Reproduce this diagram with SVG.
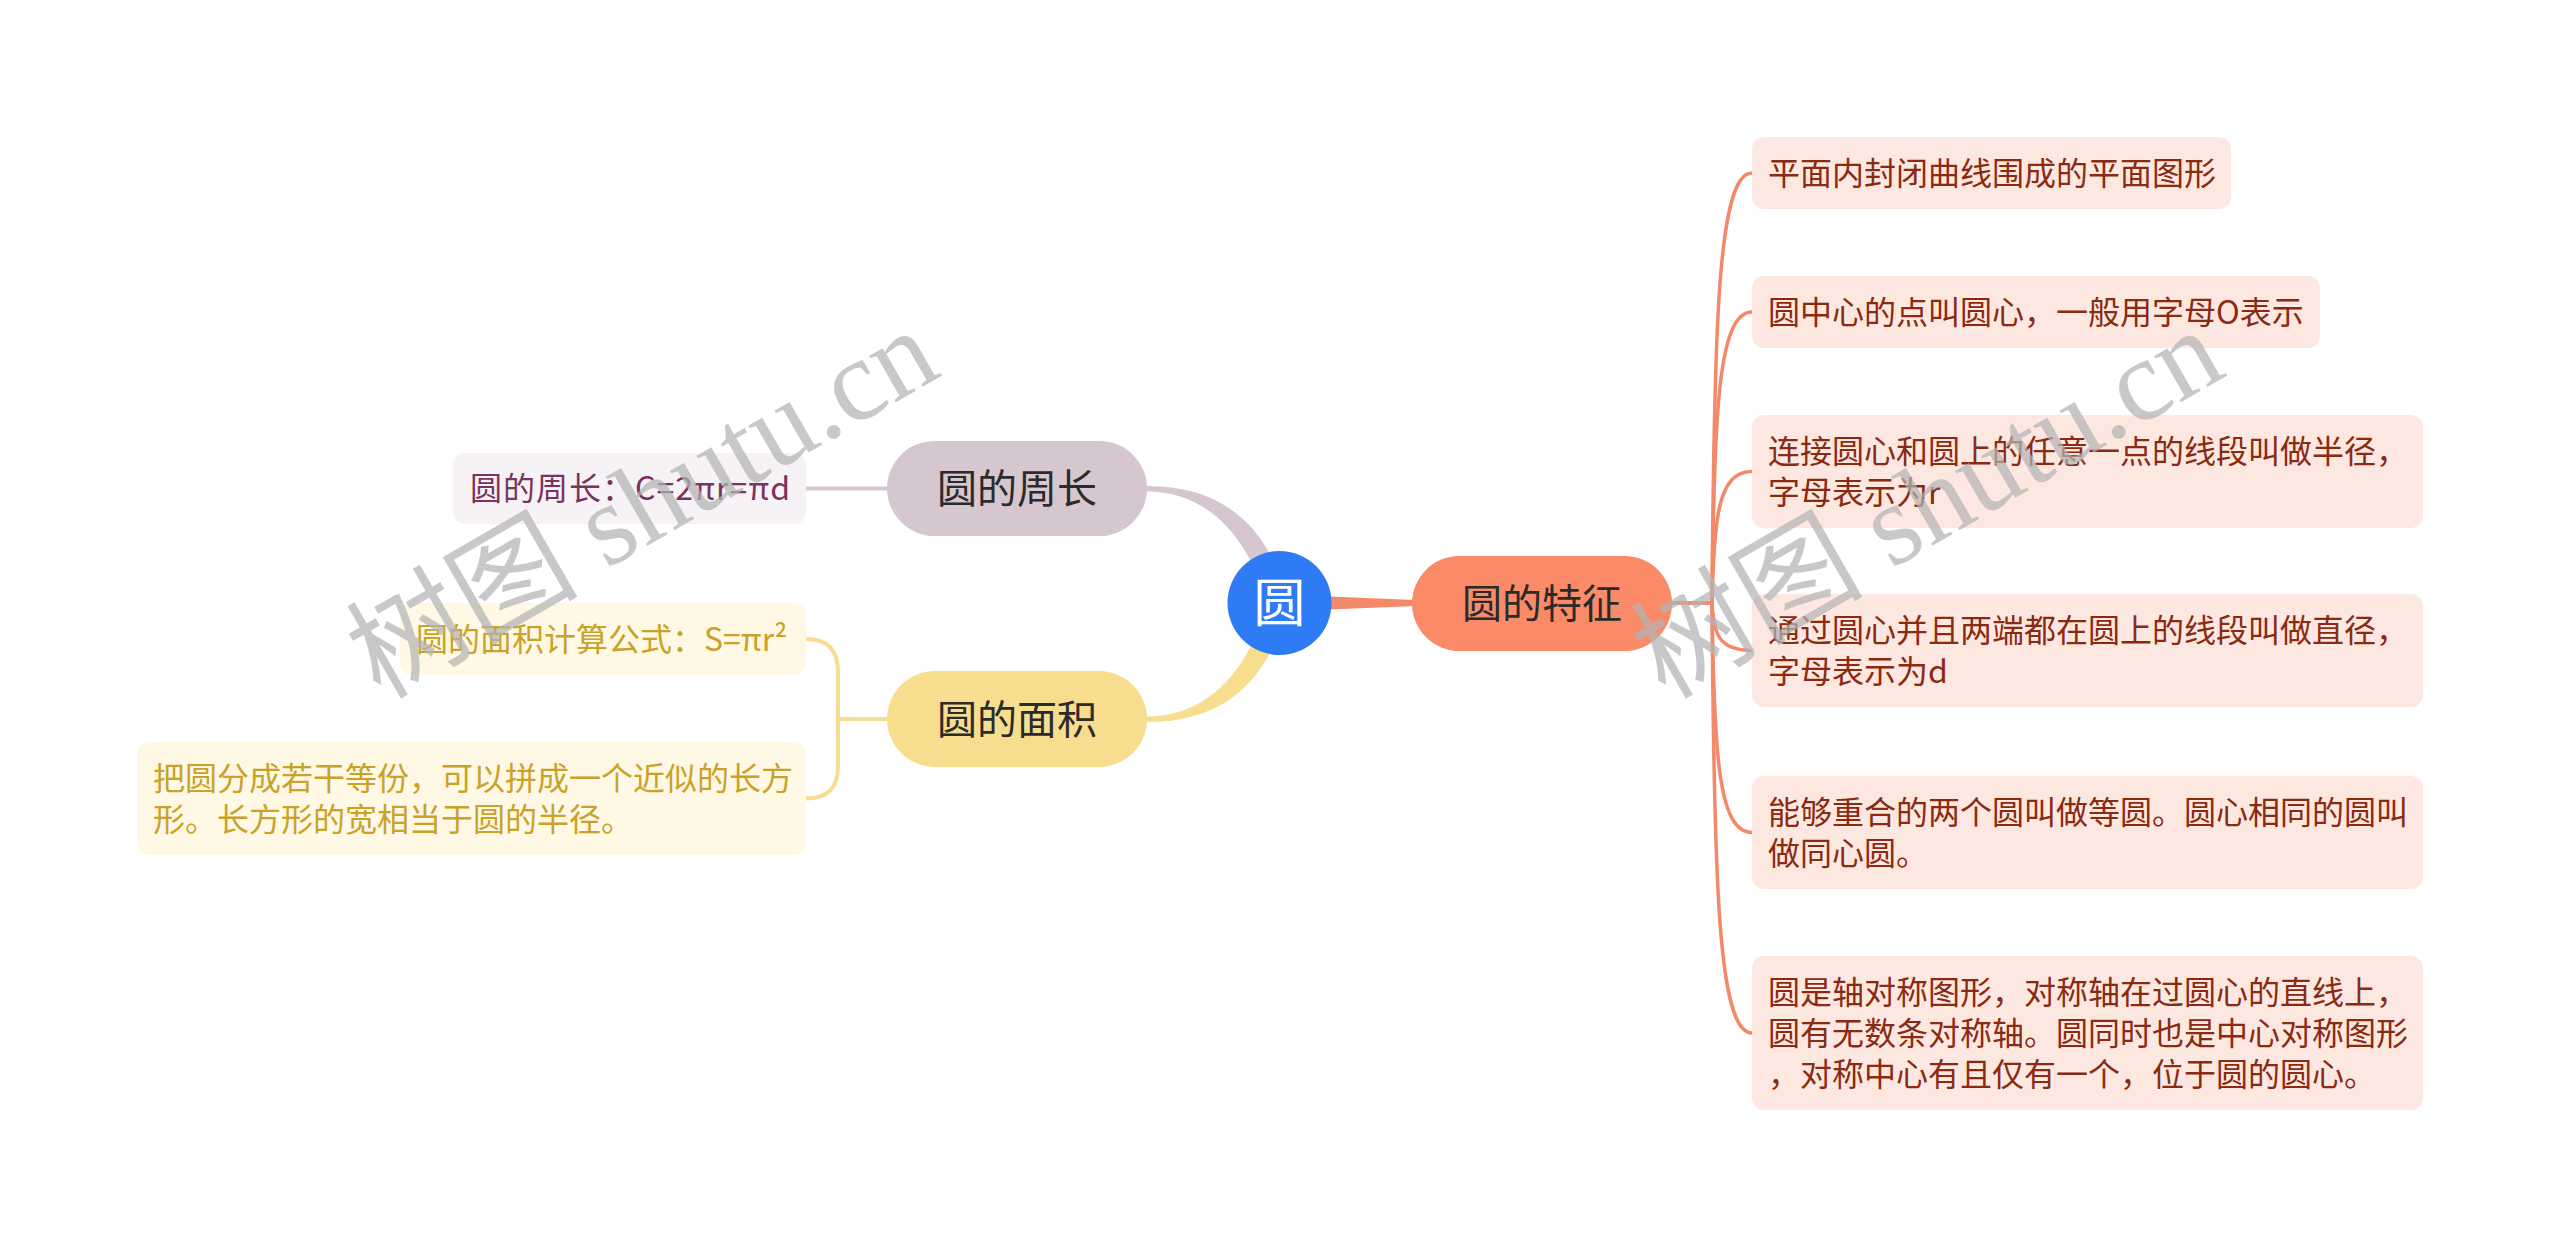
<svg xmlns="http://www.w3.org/2000/svg" width="2560" height="1248" viewBox="0 0 2560 1248">
<style>
  text { font-family: "Noto Sans CJK SC", "Noto Sans", sans-serif; }
  .lvl1 { font-size: 40px; fill: #2b2b2b; text-anchor: middle; }
  .rbox { fill: #fde7e1; }
  .rtxt { font-size: 32px; fill: #8a2a10; }
  .pbox { fill: #f7f2f5; }
  .ptxt { font-size: 32px; fill: #7a3360; }
  .ybox { fill: #fff8e5; }
  .ytxt { font-size: 32px; fill: #c9a227; }
  .oline { fill: none; stroke: #f4896a; stroke-width: 3.5; stroke-linecap: round; }
  .wm { font-family: "Liberation Serif", "Noto Sans CJK SC", serif; font-size: 116px; fill: #b4b4b4; opacity: 0.72; }
</style>
<rect width="2560" height="1248" fill="#ffffff"/>

<g id="connectors">
  <!-- root to 圆的周长 (tapered) -->
  <path d="M 1147 486 C 1225 486, 1270 528, 1288 603 L 1267 603 C 1252 548, 1215 491.5, 1147 491.5 Z" fill="#d6c6d0"/>
  <!-- root to 圆的面积 (tapered) -->
  <path d="M 1147 722 C 1225 722, 1270 680, 1288 603 L 1267 603 C 1252 660, 1215 716.5, 1147 716.5 Z" fill="#f7de8e"/>
  <!-- root to 圆的特征 (tapered) -->
  <path d="M 1279 594.5 L 1416 600 L 1416 606 L 1279 611.5 Z" fill="#f4896a"/>
  <!-- 圆的周长 to leaf -->
  <path d="M 887 488.5 L 806 488.5" fill="none" stroke="#d6c6d0" stroke-width="4"/>
  <!-- 圆的面积 to leaves -->
  <path d="M 887 719 L 838 719" fill="none" stroke="#f7de8e" stroke-width="4"/>
  <path d="M 806 639 C 828 639, 838 650, 838 672 L 838 766 C 838 788, 828 798.5, 806 798.5" fill="none" stroke="#f7de8e" stroke-width="4"/>
  <!-- 圆的特征 to leaves -->
  <path class="oline" d="M 1672 603 L 1712 603" style="stroke-width:4"/>
  <path class="oline" d="M 1712 603 C 1714 323.5, 1718 173, 1752 173"/>
  <path class="oline" d="M 1712 603 C 1714 413.9, 1718 312, 1752 312"/>
  <path class="oline" d="M 1712 603 C 1714 517.5, 1718 471.5, 1752 471.5"/>
  <path class="oline" d="M 1712 603 C 1714 633.9, 1718 650.5, 1752 650.5"/>
  <path class="oline" d="M 1712 603 C 1714 752.2, 1718 832.5, 1752 832.5"/>
  <path class="oline" d="M 1712 603 C 1714 882.5, 1718 1033, 1752 1033"/>
</g>

<g id="root">
  <circle cx="1279.5" cy="603" r="52" fill="#2f7bf5"/>
  <text x="1279.5" y="622" font-size="52" fill="#ffffff" text-anchor="middle">圆</text>
</g>

<g id="node-features">
  <rect x="1412" y="556" width="260" height="95" rx="47.5" fill="#fa8a68"/>
  <text class="lvl1" x="1542" y="617.5">圆的特征</text>
</g>

<g id="node-perimeter">
  <rect x="887" y="441" width="260" height="95" rx="47.5" fill="#d6c6d0"/>
  <text class="lvl1" x="1017" y="503">圆的周长</text>
</g>

<g id="node-area">
  <rect x="887" y="671" width="260" height="96" rx="48" fill="#f7de8e"/>
  <text class="lvl1" x="1017" y="733.5">圆的面积</text>
</g>

<g id="leaf-perimeter">
  <rect class="pbox" x="453" y="453" width="353" height="71" rx="12"/>
  <text class="ptxt" x="470" y="500" textLength="320" lengthAdjust="spacing">圆的周长：C=2πr=πd</text>
</g>

<g id="leaf-area-formula">
  <rect class="ybox" x="400" y="603" width="406" height="72" rx="12"/>
  <text class="ytxt" x="416" y="650.5">圆的面积计算公式：S=πr²</text>
</g>

<g id="leaf-area-rect">
  <rect class="ybox" x="137" y="742" width="669" height="113" rx="12"/>
  <text class="ytxt" x="153" y="790">把圆分成若干等份，可以拼成一个近似的长方</text>
  <text class="ytxt" x="153" y="831">形。长方形的宽相当于圆的半径。</text>
</g>

<g id="feat-1">
  <rect class="rbox" x="1752" y="137" width="479" height="72" rx="12"/>
  <text class="rtxt" x="1768" y="184.5">平面内封闭曲线围成的平面图形</text>
</g>

<g id="feat-2">
  <rect class="rbox" x="1752" y="276" width="568" height="72" rx="12"/>
  <text class="rtxt" x="1768" y="323.5">圆中心的点叫圆心，一般用字母O表示</text>
</g>

<g id="feat-3">
  <rect class="rbox" x="1752" y="415" width="671" height="113" rx="12"/>
  <text class="rtxt" x="1768" y="462.5">连接圆心和圆上的任意一点的线段叫做半径，</text>
  <text class="rtxt" x="1768" y="503.5">字母表示为r</text>
</g>

<g id="feat-4">
  <rect class="rbox" x="1752" y="594" width="671" height="113" rx="12"/>
  <text class="rtxt" x="1768" y="641.5">通过圆心并且两端都在圆上的线段叫做直径，</text>
  <text class="rtxt" x="1768" y="682.5">字母表示为d</text>
</g>

<g id="feat-5">
  <rect class="rbox" x="1752" y="776" width="671" height="113" rx="12"/>
  <text class="rtxt" x="1768" y="823.5">能够重合的两个圆叫做等圆。圆心相同的圆叫</text>
  <text class="rtxt" x="1768" y="864.5">做同心圆。</text>
</g>

<g id="feat-6">
  <rect class="rbox" x="1752" y="956" width="671" height="154" rx="12"/>
  <text class="rtxt" x="1768" y="1003.5">圆是轴对称图形，对称轴在过圆心的直线上，</text>
  <text class="rtxt" x="1768" y="1044.5">圆有无数条对称轴。圆同时也是中心对称图形</text>
  <text class="rtxt" x="1768" y="1085.5">，对称中心有且仅有一个，位于圆的圆心。</text>
</g>

<g id="watermarks">
  <text class="wm" transform="translate(380,700) rotate(-30)">树图 shutu.cn</text>
  <text class="wm" transform="translate(1665,700) rotate(-30)">树图 shutu.cn</text>
</g>
</svg>
